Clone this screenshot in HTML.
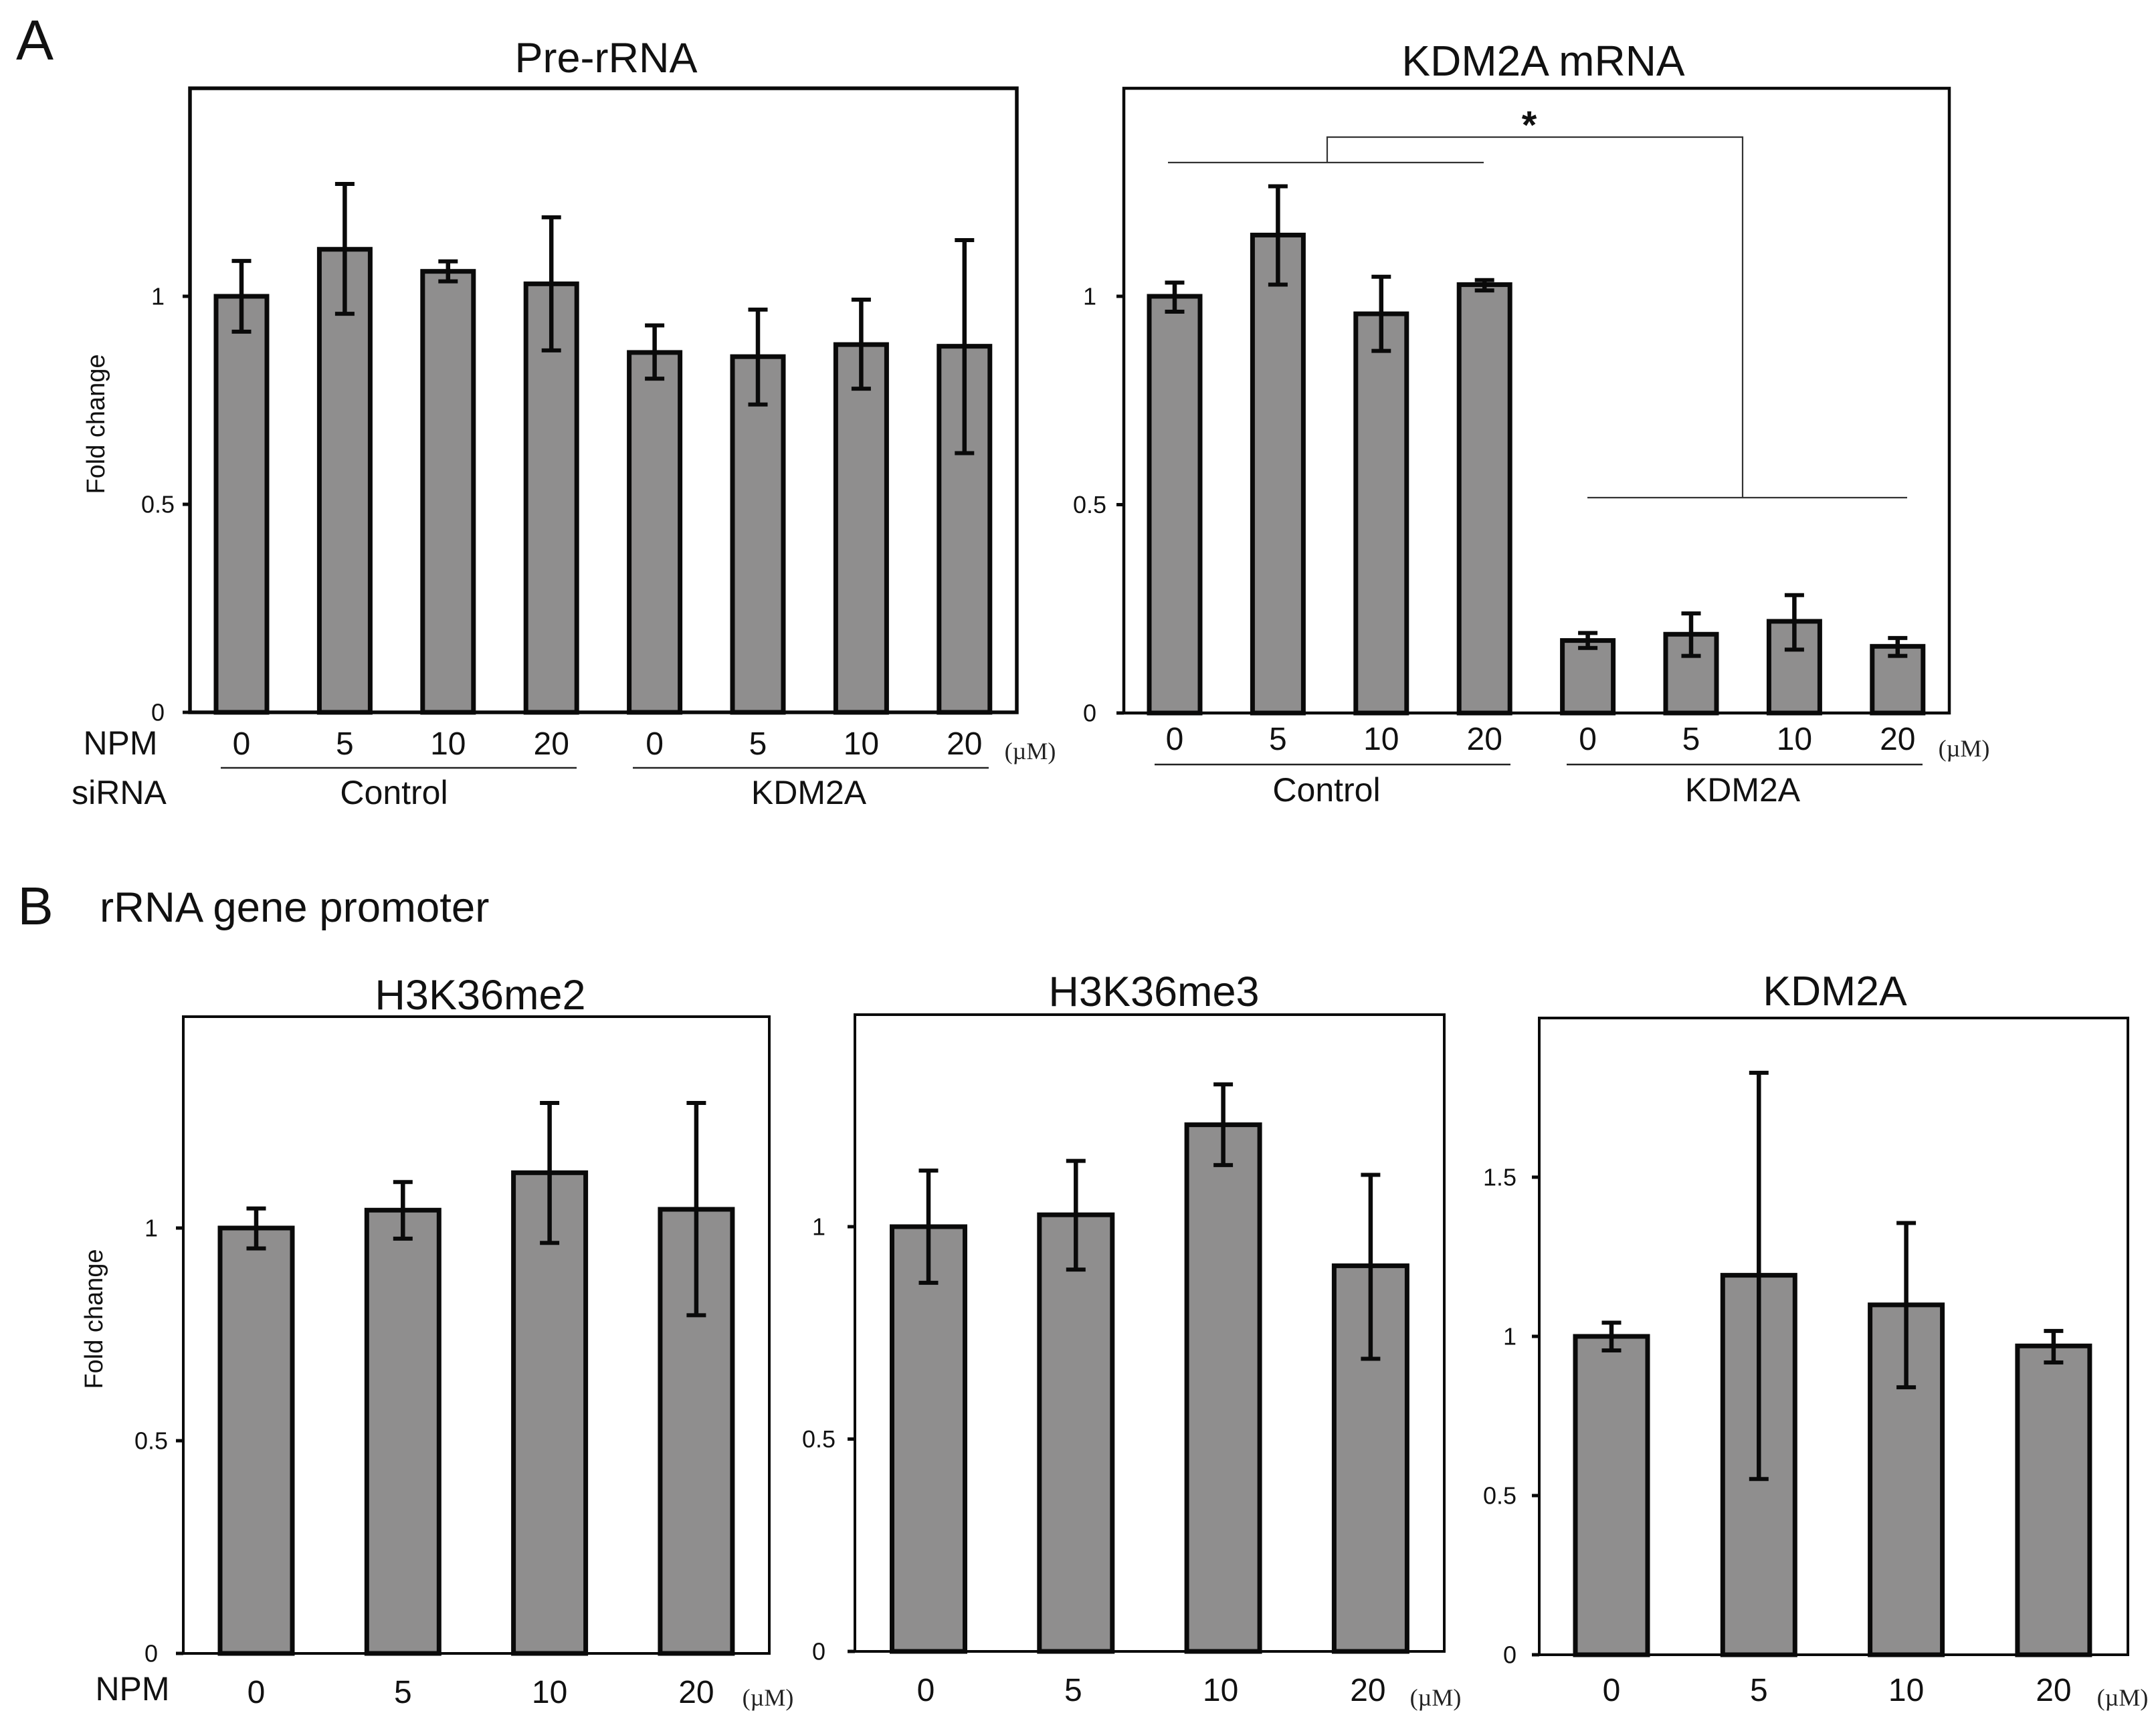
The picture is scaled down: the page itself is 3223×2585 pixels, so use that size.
<!DOCTYPE html>
<html lang="en">
<head>
<meta charset="utf-8">
<title>NPM dose response: Pre-rRNA, KDM2A mRNA and rRNA gene promoter ChIP</title>
<style>
html,body{margin:0;padding:0;background:#fff;width:3223px;height:2585px;overflow:hidden}
svg{display:block}
text{font-family:"Liberation Sans",Arial,sans-serif;fill:#111}
.um{font-family:"Liberation Serif",serif;font-size:36px;text-anchor:middle;fill:#222}
.mid{text-anchor:middle}
</style>
</head>
<body>
<svg id="figure" xmlns="http://www.w3.org/2000/svg" width="3223" height="2585" viewBox="0 0 3223 2585">
  <rect x="0" y="0" width="3223" height="2585" fill="#fff"/>

  <text x="52" y="89" font-size="84" class="mid">A</text>
  <text x="53" y="1382" font-size="80" class="mid">B</text>
  <text x="149" y="1378" font-size="63.5">rRNA gene promoter</text>

  <text x="906" y="108" font-size="63" class="mid">Pre-rRNA</text>
  <text x="2307" y="113" font-size="64" class="mid">KDM2A mRNA</text>
  <text x="718" y="1509" font-size="63" class="mid">H3K36me2</text>
  <text x="1725" y="1504" font-size="63" class="mid">H3K36me3</text>
  <text x="2743" y="1503" font-size="62.5" class="mid">KDM2A</text>

  <text transform="translate(156 634) rotate(-90)" font-size="38" class="mid">Fold change</text>
  <text transform="translate(153 1972) rotate(-90)" font-size="38" class="mid">Fold change</text>

  <text x="180" y="1128" font-size="50" class="mid">NPM</text>
  <text x="178" y="1202" font-size="50" class="mid">siRNA</text>
  <text x="198" y="2542" font-size="50" class="mid">NPM</text>

  <text x="1540" y="1135" class="um">(µM)</text>
  <text x="2936" y="1131" class="um">(µM)</text>
  <text x="1148" y="2550" class="um">(µM)</text>
  <text x="2146" y="2550" class="um">(µM)</text>
  <text x="3173" y="2550" class="um">(µM)</text>

  <line x1="330" y1="1148" x2="862" y2="1148" stroke="#222" stroke-width="2.5"/>
  <line x1="946" y1="1148" x2="1478" y2="1148" stroke="#222" stroke-width="2.5"/>
  <text x="589" y="1202" font-size="50" class="mid">Control</text>
  <text x="1209" y="1202" font-size="50" class="mid">KDM2A</text>

  <line x1="1726" y1="1143" x2="2258" y2="1143" stroke="#222" stroke-width="2.5"/>
  <line x1="2342" y1="1143" x2="2874" y2="1143" stroke="#222" stroke-width="2.5"/>
  <text x="1983" y="1198" font-size="50" class="mid">Control</text>
  <text x="2605" y="1198" font-size="50" class="mid">KDM2A</text>

  <g id="plots"></g>

  <g fill="none" stroke="#333" stroke-width="2.2">
    <line x1="1746" y1="243" x2="2218" y2="243"/>
    <polyline points="1984,243 1984,205 2605,205 2605,744"/>
    <line x1="2373" y1="744" x2="2851" y2="744"/>
  </g>
  <text x="2286" y="207" font-size="58" font-weight="bold" class="mid">*</text>
</svg>

<script>
// ---- Data ----
var doseLabels8 = ['0', '5', '10', '20', '0', '5', '10', '20'];
var doseLabels4 = ['0', '5', '10', '20'];
var ticksStandard = [0, 0.5, 1];
var ticksExtended = [0, 0.5, 1, 1.5];

var preRrnaValues = [1.0, 1.113, 1.06, 1.03, 0.865, 0.855, 0.884, 0.88];
var preRrnaHigh = [1.085, 1.27, 1.084, 1.19, 0.93, 0.968, 0.992, 1.135];
var preRrnaLow = [0.915, 0.958, 1.036, 0.87, 0.802, 0.74, 0.778, 0.623];

var kdm2aMrnaValues = [1.0, 1.147, 0.958, 1.028, 0.174, 0.189, 0.22, 0.16];
var kdm2aMrnaHigh = [1.033, 1.264, 1.047, 1.039, 0.192, 0.239, 0.283, 0.18];
var kdm2aMrnaLow = [0.963, 1.028, 0.869, 1.014, 0.156, 0.137, 0.152, 0.137];

var h3k36me2Values = [1.0, 1.042, 1.13, 1.044];
var h3k36me2High = [1.046, 1.108, 1.294, 1.294];
var h3k36me2Low = [0.952, 0.975, 0.965, 0.795];

var h3k36me3Values = [1.0, 1.028, 1.24, 0.908];
var h3k36me3High = [1.132, 1.155, 1.335, 1.122];
var h3k36me3Low = [0.868, 0.899, 1.145, 0.689];

var kdm2aChipValues = [1.0, 1.192, 1.099, 0.97];
var kdm2aChipHigh = [1.043, 1.828, 1.356, 1.017];
var kdm2aChipLow = [0.956, 0.552, 0.84, 0.918];

// ---- Panel layout ----
var SVGNS = 'http://www.w3.org/2000/svg';
var plots = document.getElementById('plots');

function shape(parent, tag, attrs) {
  var el = document.createElementNS(SVGNS, tag);
  for (var k in attrs) { el.setAttribute(k, attrs[k]); }
  parent.appendChild(el);
  return el;
}

function drawPanel(p) {
  var group = shape(plots, 'g', {});
  
  

  function yScale(v) { return p.bottom - v * (p.bottom - p.yOne); }
  function xScale(i) { return p.firstX + i * p.stepX; }

  var frame = shape(group, 'rect', {
    x: p.left, y: p.top, width: p.right - p.left, height: p.bottom - p.top,
    fill: 'none', stroke: '#0a0a0a', 'stroke-width': p.frameWidth
  });
  
  

  p.ticks.forEach(function (t) {
    var y = yScale(t);
    var tick = shape(group, 'line', {
      x1: p.left - 11, x2: p.left, y1: y, y2: y, stroke: '#0a0a0a', 'stroke-width': 5
    });
    
    

    var label = shape(group, 'text', {
      x: p.tickLabelX, y: y + 12.5, 'font-size': 36, 'text-anchor': p.tickAnchor
    });
    label.textContent = String(t);
    
    
  });

  p.values.forEach(function (v, i) {
    var cx = xScale(i);
    var top = yScale(v);

    var bar = shape(group, 'rect', {
      x: cx - p.barWidth / 2, y: top, width: p.barWidth, height: p.bottom - top,
      fill: '#8f8e8e', stroke: '#0a0a0a', 'stroke-width': 7
    });
    
    

    var hi = yScale(p.high[i]);
    var lo = yScale(p.low[i]);

    var stem = shape(group, 'line', {
      x1: cx, x2: cx, y1: hi, y2: lo, stroke: '#0a0a0a', 'stroke-width': 6.5
    });
    
    

    var capHigh = shape(group, 'line', {
      x1: cx - 14.5, x2: cx + 14.5, y1: hi, y2: hi, stroke: '#0a0a0a', 'stroke-width': 6
    });
    
    

    var capLow = shape(group, 'line', {
      x1: cx - 14.5, x2: cx + 14.5, y1: lo, y2: lo, stroke: '#0a0a0a', 'stroke-width': 6
    });
    
    

    var dose = shape(group, 'text', {
      x: cx + p.labelDx, y: p.labelY, 'font-size': 48, 'text-anchor': 'middle'
    });
    dose.textContent = p.categories[i];
    
    
  });
}

drawPanel({
  name: 'pre-rrna', left: 284, right: 1520, top: 132, bottom: 1065, yOne: 443,
  firstX: 361, stepX: 154.4, barWidth: 76, frameWidth: 5.5,
  ticks: ticksStandard, tickLabelX: 236, tickAnchor: 'middle',
  categories: doseLabels8, labelY: 1128, labelDx: 0,
  values: preRrnaValues, high: preRrnaHigh, low: preRrnaLow
});

drawPanel({
  name: 'kdm2a-mrna', left: 1680, right: 2914, top: 132, bottom: 1066, yOne: 443,
  firstX: 1756, stepX: 154.4, barWidth: 76, frameWidth: 4.5,
  ticks: ticksStandard, tickLabelX: 1629, tickAnchor: 'middle',
  categories: doseLabels8, labelY: 1121, labelDx: 0,
  values: kdm2aMrnaValues, high: kdm2aMrnaHigh, low: kdm2aMrnaLow
});

drawPanel({
  name: 'h3k36me2', left: 274, right: 1150, top: 1520, bottom: 2472, yOne: 1836,
  firstX: 383, stepX: 219.3, barWidth: 108, frameWidth: 4,
  ticks: ticksStandard, tickLabelX: 226, tickAnchor: 'middle',
  categories: doseLabels4, labelY: 2546, labelDx: 0,
  values: h3k36me2Values, high: h3k36me2High, low: h3k36me2Low
});

drawPanel({
  name: 'h3k36me3', left: 1278, right: 2159, top: 1517, bottom: 2469, yOne: 1834,
  firstX: 1388, stepX: 220.3, barWidth: 109, frameWidth: 4,
  ticks: ticksStandard, tickLabelX: 1224, tickAnchor: 'middle',
  categories: doseLabels4, labelY: 2543, labelDx: -4,
  values: h3k36me3Values, high: h3k36me3High, low: h3k36me3Low
});

drawPanel({
  name: 'kdm2a-chip', left: 2301, right: 3181, top: 1522, bottom: 2474, yOne: 1998,
  firstX: 2409, stepX: 220.3, barWidth: 108, frameWidth: 4,
  ticks: ticksExtended, tickLabelX: 2267, tickAnchor: 'end',
  categories: doseLabels4, labelY: 2543, labelDx: 0,
  values: kdm2aChipValues, high: kdm2aChipHigh, low: kdm2aChipLow
});
</script>
</body>
</html>
